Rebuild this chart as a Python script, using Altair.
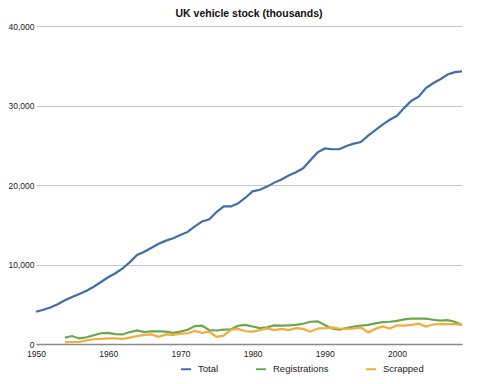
import altair as alt
import pandas as pd

# Values in thousands
years = list(range(1950, 2010))
total = [
    4050, 4300, 4600, 5000, 5500, 5900, 6300, 6700, 7200, 7800,
    8400, 8900, 9500, 10300, 11200, 11600, 12100, 12600, 13000, 13300,
    13700, 14100, 14800, 15400, 15700, 16600, 17300, 17300, 17700, 18400,
    19200, 19400, 19800, 20300, 20700, 21200, 21600, 22100, 23100, 24100,
    24600, 24500, 24500, 24900, 25200, 25400, 26200, 26900, 27600, 28200,
    28700, 29700, 30600, 31100, 32200, 32800, 33300, 33900, 34200, 34300,
]

flow_years = list(range(1954, 2010))
registrations = [
    800, 1000, 700, 850, 1100, 1350,
    1400, 1250, 1200, 1500, 1700, 1500, 1600, 1600, 1550, 1400,
    1550, 1800, 2250, 2300, 1750, 1700, 1800, 1850, 2300, 2400,
    2200, 2000, 2100, 2350, 2300, 2350, 2400, 2550, 2800, 2850,
    2400, 1950, 1800, 2000, 2200, 2300, 2400, 2600, 2750, 2800,
    2900, 3100, 3200, 3200, 3200, 3050, 2950, 3000, 2800, 2400,
]
scrapped = [
    200, 250, 250, 450, 600, 650,
    700, 700, 650, 800, 1000, 1150, 1200, 900, 1200, 1150,
    1300, 1350, 1650, 1400, 1550, 900, 1050, 1800, 1900, 1600,
    1550, 1750, 1950, 1750, 1900, 1750, 2000, 1900, 1550, 1950,
    2000, 2100, 1950, 1900, 1950, 2100, 1450, 1900, 2200, 1950,
    2350, 2300, 2400, 2550, 2200, 2450, 2500, 2500, 2500, 2400,
]

series_names = ["Total", "Registrations", "Scrapped"]
series_colors = ["#3f6fa6", "#69a84f", "#f5ab3c"]
y_ticks = [0, 10000, 20000, 30000, 40000]
x_ticks = [1950, 1960, 1970, 1980, 1990, 2000]

rows = []
for y, v in zip(years, total):
    rows.append({"year": y, "value": v, "series": "Total"})
for y, v in zip(flow_years, registrations):
    rows.append({"year": y, "value": v, "series": "Registrations"})
for y, v in zip(flow_years, scrapped):
    rows.append({"year": y, "value": v, "series": "Scrapped"})
df = pd.DataFrame(rows)

FONT = "Liberation Sans"

chart = (
    alt.Chart(df)
    .mark_line(strokeWidth=2.2, interpolate="linear")
    .encode(
        x=alt.X(
            "year:Q",
            scale=alt.Scale(domain=[1950, 2009], nice=False, zero=False),
            axis=alt.Axis(
                values=x_ticks,
                format="d",
                title=None,
                grid=False,
                ticks=False,
                domain=True,
                domainColor="#8a8a8a",
                domainWidth=1.6,
                labelPadding=5,
                labelFlush=False,
                labelFontSize=8.5,
                labelColor="#222222",
                labelFont=FONT,
            ),
        ),
        y=alt.Y(
            "value:Q",
            scale=alt.Scale(domain=[0, 40000], nice=False),
            axis=alt.Axis(
                values=y_ticks,
                format=",d",
                title=None,
                grid=True,
                gridColor="#c8c8c8",
                gridWidth=1,
                ticks=False,
                domain=False,
                labelPadding=2,
                labelFlush=False,
                labelFontSize=8.5,
                labelColor="#222222",
                labelFont=FONT,
            ),
        ),
        color=alt.Color(
            "series:N",
            scale=alt.Scale(domain=series_names, range=series_colors),
            sort=series_names,
            legend=alt.Legend(
                title=None,
                orient="none",
                legendX=144,
                legendY=337,
                direction="horizontal",
                symbolType="stroke",
                symbolStrokeWidth=2,
                symbolSize=100,
                labelFontSize=9.5,
                labelFont=FONT,
                labelColor="#222222",
                labelOffset=6,
                columnPadding=33,
            ),
        ),
    )
    .properties(
        width=426,
        height=318,
        title=alt.TitleParams(
            "UK vehicle stock (thousands)",
            fontSize=10.5,
            fontWeight="bold",
            font=FONT,
            color="#111111",
            anchor="middle",
            offset=3,
        ),
        autosize=alt.AutoSizeParams(type="none"),
        padding={"left": 28, "top": 18, "right": 19, "bottom": 36},
    )
    .configure_view(stroke=None)
)

chart.save("out.html", embed_options={"renderer": "svg", "actions": False})
